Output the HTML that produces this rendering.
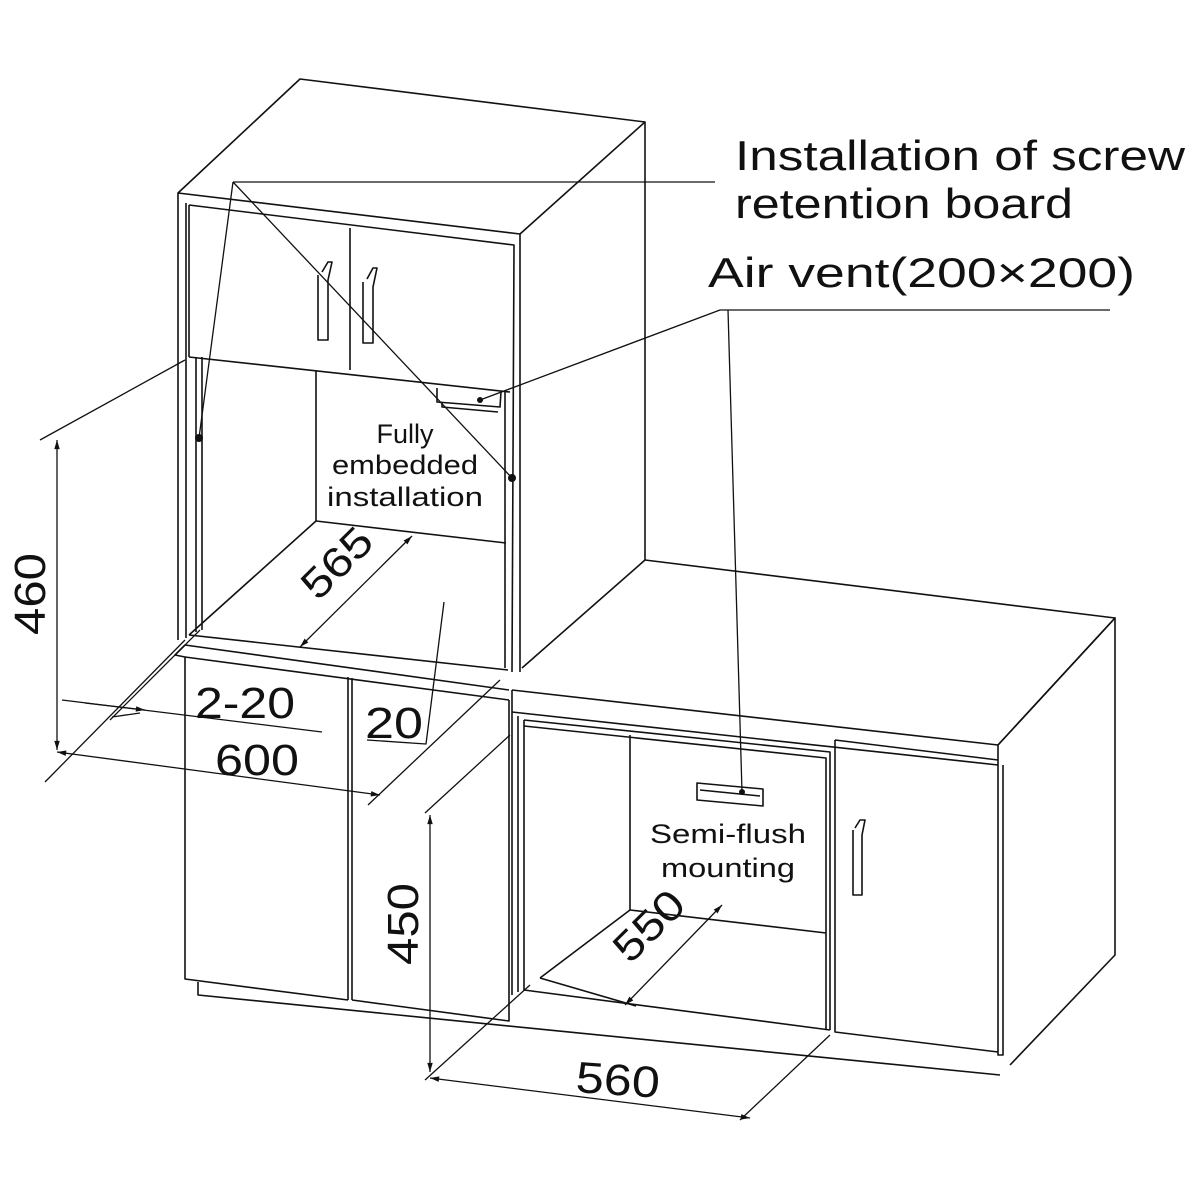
<!DOCTYPE html>
<html><head><meta charset="utf-8"><style>
html,body{margin:0;padding:0;background:#fff;}
svg{display:block}
text{font-family:"Liberation Sans",sans-serif;fill:#111}
</style></head><body>
<svg width="1200" height="1200" viewBox="0 0 1200 1200" xmlns="http://www.w3.org/2000/svg">
<defs>
<marker id="a" viewBox="0 0 10 10" refX="10" refY="5" markerWidth="9" markerHeight="7" orient="auto-start-reverse"><path d="M0,2 L10,5 L0,8 z" fill="#111"/></marker>
</defs>
<g fill="none" stroke="#111" stroke-width="1.6" stroke-linejoin="round">
<path d="M178,193 L300,79 L645,122 L520,234 Z"/>
<path d="M645,122 L645,560"/>
<path d="M520,234 L520,672"/>
<path d="M178,193 L178,640"/>
<path d="M186,203 L186,638"/>
<path d="M189,205 L514,245 L512,672"/>
<path d="M189,205 L189,357"/>
<path d="M189,357 L510,392"/>
<path d="M350,228 L350,370"/>
<path d="M318,275 L318,340 L328,340 L328,280 L332,262 L328,262 L322,272"/>
<path d="M363,282 L363,343 L373,343 L373,287 L377,268 L373,268 L367,279"/>
<path d="M196,357 L196,632 M202,357 L202,630"/>
<path d="M505,392 L505,668"/>
<path d="M316,371 L316,521 L506,543"/>
<path d="M316,521 L189,635"/>
<path d="M189,635 L508,670"/>
<path d="M185,645 L509,690"/>
<path d="M437,388 L437,402 L500,407 L501,392"/>
<path d="M442,402 L442,407 L498,412"/>
<path d="M185,657 L509,700"/>
<path d="M185,657 L185,979 L348,1000"/>
<path d="M348,677 L348,1000 M352,678 L352,1000"/>
<path d="M352,1000 L509,1021 L509,700"/>
<path d="M198,982 L198,995 L1000,1075"/>
<path d="M185,645 L175,655 L185,657"/>
<path d="M522,668 L645,560 L1115,618 L998,745"/>
<path d="M512,690 L998,745 L998,765 M512,690 L512,712 L998,765"/>
<path d="M998,745 L1115,618 L1115,955 L1010,1065"/>
<path d="M998,765 L998,1055 L1003,1055 L1003,765"/>
<path d="M512,712 L512,995 M518,716 L518,992"/>
<path d="M524,720 L830,752 L830,1030"/>
<path d="M524,726 L826,758 L826,1030"/>
<path d="M630,735 L630,910 L826,933"/>
<path d="M630,910 L540,978"/>
<path d="M524,720 L524,990 L830,1030"/>
<path d="M540,978 L636,1006"/>
<path d="M835,740 L835,1032 L998,1052"/>
<path d="M835,740 L998,760"/>
<path d="M853,830 L853,895 L862,895 L862,835 L865,820 L860,820 L855,828"/>
<path d="M697,783 L763,789 L763,806 L697,800 Z M700,790 L760,796"/>
<path d="M233,182 L715,182" stroke-width="1.3"/>
<path d="M233,182 L512,478" stroke-width="1.3"/>
<path d="M233,182 L199,438" stroke-width="1.3"/>
<path d="M480,400 L720,310 L1110,310" stroke-width="1.3"/>
<path d="M728,310 L742,792" stroke-width="1.3"/>
<path d="M40,440 L185,360" stroke-width="1.3"/>
<path d="M57,440 L57,750" stroke-width="1.3" marker-start="url(#a)" marker-end="url(#a)"/>
<path d="M45,782 L185,640" stroke-width="1.3"/>
<path d="M62,700 L322,732" stroke-width="1.3"/>
<path d="M85,703 L145,710" stroke-width="1.3" marker-end="url(#a)"/>
<path d="M140,713 L112,717" stroke-width="1.3"/>
<path d="M110,720 L200,630" stroke-width="1.3"/>
<path d="M57,752 L380,795" stroke-width="1.3" marker-start="url(#a)" marker-end="url(#a)"/>
<path d="M368,805 L500,680" stroke-width="1.3"/>
<path d="M444,602 L426,744 L367,740" stroke-width="1.3"/>
<path d="M300,647 L412,536" stroke-width="1.3" marker-start="url(#a)" marker-end="url(#a)"/>
<path d="M425,813 L510,735" stroke-width="1.3"/>
<path d="M430,815 L430,1072" stroke-width="1.3" marker-start="url(#a)" marker-end="url(#a)"/>
<path d="M425,1080 L530,985" stroke-width="1.3"/>
<path d="M625,1005 L722,905" stroke-width="1.3" marker-start="url(#a)" marker-end="url(#a)"/>
<path d="M430,1078 L750,1118" stroke-width="1.3" marker-start="url(#a)" marker-end="url(#a)"/>
<path d="M740,1120 L830,1035" stroke-width="1.3"/>
</g>
<g fill="#111">
<circle cx="199" cy="438" r="4"/><circle cx="512" cy="478" r="4"/>
<circle cx="480" cy="400" r="3"/><circle cx="742" cy="792" r="3"/>
</g>
<text x="735" y="170" font-size="42" textLength="450" lengthAdjust="spacingAndGlyphs">Installation of screw</text>
<text x="735" y="218" font-size="42" textLength="338" lengthAdjust="spacingAndGlyphs">retention board</text>
<text x="708" y="287" font-size="42" textLength="427" lengthAdjust="spacingAndGlyphs">Air vent(200×200)</text>
<text x="405" y="443" font-size="27" text-anchor="middle">Fully</text>
<text x="405" y="474" font-size="27" text-anchor="middle" textLength="146" lengthAdjust="spacingAndGlyphs">embedded</text>
<text x="405" y="506" font-size="27" text-anchor="middle" textLength="156" lengthAdjust="spacingAndGlyphs">installation</text>
<text x="728" y="843" font-size="27" text-anchor="middle" textLength="156" lengthAdjust="spacingAndGlyphs">Semi-flush</text>
<text x="728" y="877" font-size="27" text-anchor="middle" textLength="134" lengthAdjust="spacingAndGlyphs">mounting</text>
<text x="195" y="718" font-size="44" textLength="100" lengthAdjust="spacingAndGlyphs">2-20</text>
<text x="215" y="775" font-size="44" textLength="84" lengthAdjust="spacingAndGlyphs">600</text>
<text x="365" y="738" font-size="44" textLength="58" lengthAdjust="spacingAndGlyphs">20</text>
<text x="0" y="0" font-size="44" textLength="82" lengthAdjust="spacingAndGlyphs" transform="translate(45,635) rotate(-90)">460</text>
<text x="0" y="0" font-size="44" textLength="82" lengthAdjust="spacingAndGlyphs" transform="translate(418,965) rotate(-90)">450</text>
<text x="0" y="0" font-size="42" textLength="82" lengthAdjust="spacingAndGlyphs" transform="translate(318,602) rotate(-45)">565</text>
<text x="0" y="0" font-size="42" textLength="82" lengthAdjust="spacingAndGlyphs" transform="translate(630,965) rotate(-45)">550</text>
<text x="575" y="1092" font-size="44" textLength="84" lengthAdjust="spacingAndGlyphs" transform="rotate(4 575 1092)">560</text>
</svg>
</body></html>
